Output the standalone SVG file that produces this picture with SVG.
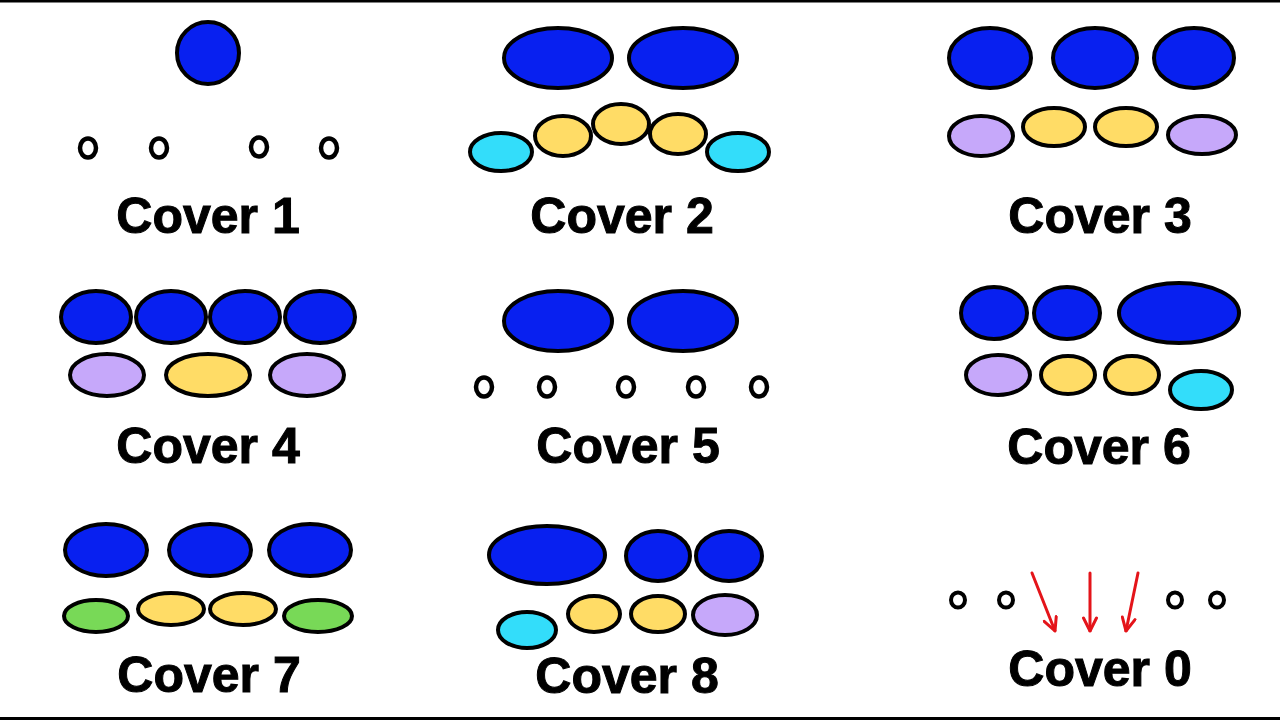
<svg xmlns="http://www.w3.org/2000/svg" width="1280" height="720" viewBox="0 0 1280 720">
<style>
  .p { stroke: #000; stroke-width: 4; }
  .b { fill: #0820F0; }
  .y { fill: #FFDC66; }
  .c { fill: #33DDFA; }
  .l { fill: #C6A8FA; }
  .g { fill: #78D957; }
  .o { fill: none; stroke: #000; stroke-width: 4.5; }
  .lbl { font-family: "Liberation Sans", Arial, sans-serif; font-weight: bold; font-size: 50px; fill: #000; stroke: #000; stroke-width: 1; text-anchor: middle; }
  .arr { stroke: #E4141A; stroke-width: 3; fill: none; stroke-linecap: round; }
</style>
<defs>
  <marker id="ah" viewBox="0 0 16 16" refX="15" refY="8" markerWidth="16" markerHeight="16" markerUnits="userSpaceOnUse" orient="auto">
    <path d="M2,1.5 L15,8 L2,14.5" fill="none" stroke="#E4141A" stroke-width="3" stroke-linecap="round" stroke-linejoin="round"/>
  </marker>
</defs>
<rect x="0" y="0" width="1280" height="720" fill="#fff"/>
<rect x="0" y="0" width="1280" height="2.5" fill="#000"/>
<rect x="0" y="717" width="1280" height="3" fill="#000"/>

<g id="cover1">
  <ellipse class="p b" cx="208" cy="53" rx="31" ry="31"/>
  <ellipse class="o" cx="88" cy="148" rx="8" ry="9.5"/>
  <ellipse class="o" cx="159" cy="148" rx="8" ry="9.5"/>
  <ellipse class="o" cx="259" cy="147" rx="8" ry="9.5"/>
  <ellipse class="o" cx="329" cy="148" rx="8" ry="9.5"/>
  <text class="lbl" x="208" y="233">Cover 1</text>
</g>

<g id="cover2">
  <ellipse class="p b" cx="558" cy="58" rx="54" ry="30"/>
  <ellipse class="p b" cx="683" cy="58" rx="54" ry="30"/>
  <ellipse class="p c" cx="501" cy="152" rx="31" ry="19"/>
  <ellipse class="p y" cx="563" cy="136" rx="28" ry="20"/>
  <ellipse class="p y" cx="621" cy="124" rx="28" ry="20"/>
  <ellipse class="p y" cx="678" cy="134" rx="28" ry="20"/>
  <ellipse class="p c" cx="738" cy="152" rx="31" ry="19"/>
  <text class="lbl" x="622" y="233">Cover 2</text>
</g>

<g id="cover3">
  <ellipse class="p b" cx="990" cy="58" rx="41" ry="30"/>
  <ellipse class="p b" cx="1095" cy="58" rx="42" ry="30"/>
  <ellipse class="p b" cx="1194" cy="58" rx="40" ry="30"/>
  <ellipse class="p l" cx="981" cy="136" rx="32" ry="20"/>
  <ellipse class="p y" cx="1054" cy="127" rx="31" ry="19"/>
  <ellipse class="p y" cx="1126" cy="127" rx="31" ry="19"/>
  <ellipse class="p l" cx="1202" cy="135" rx="34" ry="19"/>
  <text class="lbl" x="1100" y="233">Cover 3</text>
</g>

<g id="cover4">
  <ellipse class="p b" cx="96" cy="317" rx="35" ry="26"/>
  <ellipse class="p b" cx="171" cy="317" rx="35" ry="26"/>
  <ellipse class="p b" cx="245" cy="317" rx="35" ry="26"/>
  <ellipse class="p b" cx="320" cy="317" rx="35" ry="26"/>
  <ellipse class="p l" cx="107" cy="375" rx="37" ry="21"/>
  <ellipse class="p y" cx="208" cy="375" rx="42" ry="21"/>
  <ellipse class="p l" cx="307" cy="375" rx="37" ry="21"/>
  <text class="lbl" x="208" y="463">Cover 4</text>
</g>

<g id="cover5">
  <ellipse class="p b" cx="558" cy="321" rx="54" ry="30"/>
  <ellipse class="p b" cx="683" cy="321" rx="54" ry="30"/>
  <ellipse class="o" cx="484" cy="387" rx="8" ry="9.5"/>
  <ellipse class="o" cx="547" cy="387" rx="8" ry="9.5"/>
  <ellipse class="o" cx="626" cy="387" rx="8" ry="9.5"/>
  <ellipse class="o" cx="696" cy="387" rx="8" ry="9.5"/>
  <ellipse class="o" cx="759" cy="387" rx="8" ry="9.5"/>
  <text class="lbl" x="628" y="463">Cover 5</text>
</g>

<g id="cover6">
  <ellipse class="p b" cx="994" cy="313" rx="33" ry="26"/>
  <ellipse class="p b" cx="1067" cy="313" rx="33" ry="26"/>
  <ellipse class="p b" cx="1179" cy="313" rx="60" ry="30"/>
  <ellipse class="p l" cx="998" cy="375" rx="32" ry="20"/>
  <ellipse class="p y" cx="1068" cy="375" rx="27" ry="19"/>
  <ellipse class="p y" cx="1132" cy="375" rx="27" ry="19"/>
  <ellipse class="p c" cx="1201" cy="390" rx="31" ry="19"/>
  <text class="lbl" x="1099" y="464">Cover 6</text>
</g>

<g id="cover7">
  <ellipse class="p b" cx="106" cy="550" rx="41" ry="26"/>
  <ellipse class="p b" cx="210" cy="550" rx="41" ry="26"/>
  <ellipse class="p b" cx="310" cy="550" rx="41" ry="26"/>
  <ellipse class="p g" cx="96" cy="616" rx="32" ry="16"/>
  <ellipse class="p y" cx="171" cy="609" rx="33" ry="16"/>
  <ellipse class="p y" cx="243" cy="609" rx="33" ry="16"/>
  <ellipse class="p g" cx="318" cy="616" rx="34" ry="16"/>
  <text class="lbl" x="209" y="692">Cover 7</text>
</g>

<g id="cover8">
  <ellipse class="p b" cx="547" cy="555" rx="58" ry="29"/>
  <ellipse class="p b" cx="658" cy="556" rx="32" ry="25"/>
  <ellipse class="p b" cx="729" cy="556" rx="33" ry="25"/>
  <ellipse class="p c" cx="527" cy="630" rx="29" ry="18"/>
  <ellipse class="p y" cx="594" cy="614" rx="26" ry="18"/>
  <ellipse class="p y" cx="658" cy="614" rx="27" ry="18"/>
  <ellipse class="p l" cx="725" cy="615" rx="32" ry="20"/>
  <text class="lbl" x="627" y="693">Cover 8</text>
</g>

<g id="cover0">
  <ellipse class="o" cx="958" cy="600" rx="7" ry="7.5" style="stroke-width:4"/>
  <ellipse class="o" cx="1006" cy="600" rx="7" ry="7.5" style="stroke-width:4"/>
  <ellipse class="o" cx="1175" cy="600" rx="7" ry="7.5" style="stroke-width:4"/>
  <ellipse class="o" cx="1217" cy="600" rx="7" ry="7.5" style="stroke-width:4"/>
  <text class="lbl" x="1100" y="686">Cover 0</text>
</g>

<g id="connectors">
  <line class="arr" x1="1032" y1="573" x2="1055" y2="631" marker-end="url(#ah)"/>
  <line class="arr" x1="1090" y1="573" x2="1090" y2="631" marker-end="url(#ah)"/>
  <line class="arr" x1="1138" y1="573" x2="1126" y2="631" marker-end="url(#ah)"/>
</g>
</svg>
